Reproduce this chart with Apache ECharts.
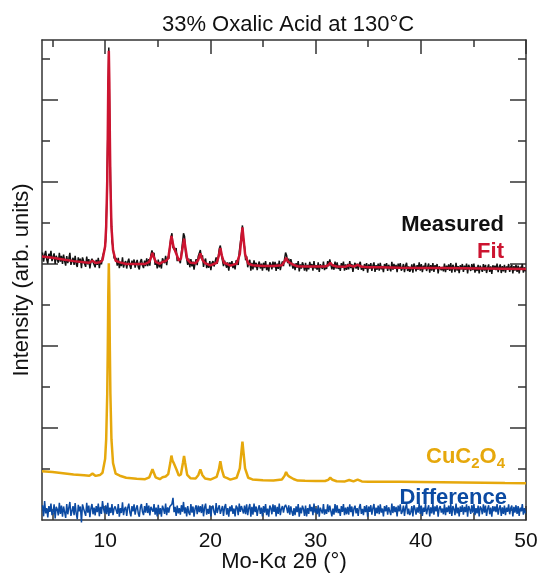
<!DOCTYPE html>
<html>
<head>
<meta charset="utf-8">
<script src="https://cdn.jsdelivr.net/npm/echarts@6/dist/echarts.min.js"></script>
<style>
html,body{margin:0;padding:0;background:#fff;}
#chart{width:540px;height:573px;}
</style>
</head>
<body>
<div id="chart"></div>
<script>
// ---- Data ----
const titleText = '33% Oxalic Acid at 130°C';
const xAxisName = 'Mo-Kα 2θ (°)';
const yAxisName = 'Intensity (arb. units)';

// Smooth curves (Fit and CuC2O4) sampled at these 2θ positions
const smoothX = [4,5,6,7,8,8.5,8.8,9.1,9.5,9.75,10.0,10.1,10.2,10.25,10.3,10.35,10.4,10.45,10.5,10.6,10.75,11.0,11.4,12,13,13.8,14.2,14.4,14.5,14.6,14.8,15.2,15.45,15.6,15.75,16.0,16.2,16.3,16.4,16.5,16.65,16.8,17.0,17.2,17.4,17.5,17.6,17.8,18.1,18.6,18.85,19.05,19.25,19.5,20.0,20.6,20.8,20.95,21.1,21.3,21.6,21.9,22.5,22.8,22.95,23.05,23.15,23.3,23.6,24.0,25,26,26.8,27.05,27.2,27.35,27.55,27.7,27.9,28.3,29,30,30.9,31.2,31.4,31.6,32.0,32.8,33.2,33.6,34.0,34.4,35,36,38,40,42,44,46,48,50];
const fitY = [6.18,6.15,6.11,6.07,6.04,6.03,6.08,6.025,6.04,6.095,6.43,6.91,8.01,9.07,10.43,11.2,10.43,9.07,8.01,6.91,6.34,6.08,6.04,6.0,6.0,6.0,6.054,6.19,6.27,6.19,6.054,6.005,6.05,6.09,6.07,6.14,6.49,6.685,6.55,6.42,6.39,6.225,6.085,6.13,6.45,6.615,6.45,6.12,6.03,6.02,6.10,6.26,6.10,6.02,5.965,6.03,6.20,6.39,6.20,6.03,6.0,5.96,6.01,6.24,6.63,6.89,6.63,6.24,6.01,5.97,5.95,5.95,5.97,6.06,6.15,6.07,6.03,6.05,5.98,5.945,5.94,5.94,5.94,5.97,6.025,5.97,5.94,5.93,5.97,5.935,5.98,5.93,5.92,5.92,5.91,5.905,5.90,5.895,5.89,5.885,5.88];
const cuY = [0.95,0.93,0.90,0.87,0.85,0.84,0.89,0.835,0.855,0.91,1.25,1.73,2.83,3.89,5.25,6.02,5.25,3.89,2.83,1.73,1.15,0.89,0.84,0.79,0.765,0.755,0.80,0.93,0.995,0.93,0.80,0.755,0.80,0.84,0.82,0.88,1.16,1.33,1.21,1.16,1.15,0.98,0.84,0.87,1.16,1.32,1.16,0.86,0.78,0.77,0.85,0.995,0.85,0.77,0.745,0.81,0.98,1.19,0.98,0.81,0.78,0.745,0.79,1.02,1.41,1.67,1.41,1.02,0.79,0.75,0.73,0.725,0.745,0.835,0.93,0.85,0.81,0.83,0.76,0.72,0.715,0.71,0.71,0.74,0.79,0.74,0.705,0.70,0.735,0.70,0.745,0.70,0.695,0.693,0.69,0.685,0.68,0.673,0.667,0.66,0.655];

// Measured and Difference: sampled every 0.1° starting at 4.05°
const scanStart = 4.05;
const scanStep = 0.1;
const measuredY = [
6.28,6.06,6.22,6.32,6.11,6.01,6.25,6.14,6.32,6.07,
6.10,6.26,6.00,6.20,6.16,6.03,6.27,6.06,6.20,6.00,
6.23,6.07,5.96,6.19,6.02,6.13,6.27,5.98,6.07,6.15,
5.98,6.20,6.00,5.93,6.16,6.04,6.13,5.90,6.16,6.08,
6.10,5.93,6.18,5.99,6.12,5.89,6.06,6.13,6.05,6.09,
5.92,6.10,5.98,6.15,5.90,6.09,5.99,6.17,6.16,6.36,
6.56,7.44,9.10,11.28,9.02,7.42,6.55,6.41,6.14,6.16,
6.14,5.96,6.15,5.90,6.05,5.95,6.16,5.91,6.02,6.07,
5.89,6.05,6.13,5.96,5.88,6.08,5.98,6.11,5.91,6.03,
6.10,5.93,5.87,6.06,6.12,5.97,5.90,6.08,5.95,6.14,
5.95,6.12,5.96,6.22,6.33,6.22,6.27,5.98,6.08,5.89,
6.11,5.92,6.05,5.89,6.14,6.10,6.02,6.20,5.97,6.18,
6.13,6.43,6.64,6.75,6.40,6.43,6.33,6.39,6.07,6.15,
6.12,6.02,6.28,6.30,6.75,6.67,6.26,6.24,5.98,6.13,
5.92,6.12,5.94,6.06,5.86,6.02,6.12,5.97,6.19,6.15,
6.34,6.13,6.21,5.93,6.07,6.13,5.90,6.00,5.91,6.07,
5.85,6.02,6.07,5.94,5.90,6.16,6.00,6.17,6.37,6.45,
6.23,6.22,5.95,6.08,6.11,5.91,6.04,5.84,6.04,5.95,
6.07,5.90,6.01,5.87,6.09,6.07,5.98,6.30,6.30,6.71,
6.94,6.57,6.42,6.09,6.19,5.92,6.04,6.10,5.84,6.03,
5.87,6.09,5.92,6.03,5.85,5.98,6.06,5.89,6.01,5.84,
6.03,5.90,6.07,5.85,5.98,5.82,6.04,5.99,5.87,6.06,
5.92,6.05,5.83,6.01,5.88,6.08,5.85,5.98,6.06,5.95,
6.12,6.28,6.21,6.02,6.13,5.94,6.12,6.01,5.89,6.01,
5.85,6.02,5.91,6.07,5.82,5.99,5.89,6.04,5.97,5.84,
6.03,5.82,5.98,5.87,6.05,5.92,6.00,5.84,6.07,5.89,
5.97,5.86,6.04,5.81,5.99,6.02,5.88,6.06,5.85,5.95,
5.88,6.07,5.95,6.11,6.08,5.87,5.99,5.86,6.06,5.89,
6.04,5.88,5.96,5.83,6.02,5.91,6.06,5.84,5.99,5.86,
6.00,5.87,6.07,5.90,6.00,5.81,5.96,6.03,5.89,6.01,
5.86,6.00,6.05,5.86,5.95,5.83,6.00,5.88,6.02,5.79,
5.99,5.89,6.02,5.83,5.96,6.04,5.81,5.97,5.86,6.01,
5.84,6.03,5.87,5.95,5.80,6.00,5.90,6.02,5.83,5.98,
5.96,5.82,6.05,5.86,6.00,5.88,5.98,5.80,6.01,5.90,
6.02,5.84,5.89,6.00,5.80,5.96,6.03,5.83,5.94,5.81,
5.87,5.99,5.79,6.01,5.94,5.82,5.97,5.86,6.04,5.84,
6.00,5.80,5.96,5.88,6.03,5.83,5.93,6.01,5.79,5.97,
5.84,6.02,5.81,5.97,5.88,6.00,5.77,5.94,5.98,5.85,
5.93,5.82,6.01,5.80,5.96,5.86,5.99,5.83,6.02,5.79,
5.98,5.92,5.80,6.03,5.84,5.95,5.78,5.97,5.87,6.00,
5.81,5.96,5.86,6.01,5.77,5.98,5.91,5.83,6.00,5.85,
6.01,5.79,5.93,5.83,5.98,5.77,5.96,5.92,5.81,6.00,
5.84,5.98,5.78,5.91,5.99,5.81,5.94,5.76,5.97,5.87,
5.96,5.85,6.01,5.80,5.92,5.99,5.78,5.95,5.82,5.98,
5.79,5.94,5.86,6.00,5.81,5.93,5.98,5.77,5.95,5.84,
5.98,5.81,5.96,5.77,5.93,5.86,6.00,5.79,5.92,5.82
];
const differenceY = [
.12,-.15,.22,-.08,.05,-.18,.10,-.04,.16,-.12,
-.06,.14,-.20,.08,.02,-.13,.18,-.09,.11,-.16,
.09,-.05,-.19,.15,-.10,.06,.20,-.14,-.02,.10,
-.12,.17,-.08,-.22,.13,-.03,.09,-.30,.14,.04,
.07,-.14,.18,-.06,.11,-.17,.04,.15,-.10,.06,
-.13,.10,-.05,.16,-.15,.08,-.09,.22,.03,-.08,
.12,-.10,.18,-.14,.06,-.07,.15,-.12,.04,.09,
.11,-.09,.15,-.16,.05,-.07,.19,-.12,.03,.08,
-.14,.06,.16,-.05,-.15,.10,-.03,.14,-.11,.04,
.12,-.08,-.16,.07,.15,-.04,-.12,.10,-.06,.17,
-.07,.11,-.13,.08,.10,-.04,.15,-.11,.06,-.15,
.13,-.10,.05,-.16,.11,.03,-.09,.16,-.12,.07,
-.06,.09,.05,.15,.30,-.05,.08,-.14,.11,-.08,
.05,-.11,.12,-.04,.20,-.08,.07,-.15,.10,-.06,
-.12,.15,-.06,.09,-.16,.04,.12,-.10,.11,-.05,
.10,-.07,.14,-.15,.06,.16,-.11,.03,-.09,.12,
-.15,.06,.11,-.05,-.12,.17,-.07,.04,.12,-.09,
-.05,.10,-.14,.07,.15,-.11,.05,-.16,.09,-.03,
.12,-.09,.04,-.15,.11,.06,-.12,.16,-.04,.10,
.07,-.08,.11,-.10,.14,-.12,.05,.15,-.16,.08,
-.11,.16,-.05,.09,-.14,.03,.12,-.09,.06,-.15,
.10,-.06,.15,-.12,.04,-.16,.11,.05,-.10,.14,
-.04,.12,-.15,.08,-.09,.16,-.12,.03,.10,-.06,
.08,.13,.06,-.07,.12,-.11,.09,-.04,-.14,.05,
-.12,.09,-.05,.15,-.16,.06,-.08,.11,.03,-.14,
.11,-.15,.05,-.09,.14,-.03,.08,-.12,.16,-.06,
.04,-.10,.12,-.16,.06,.10,-.08,.15,-.11,.02,
-.09,.14,-.05,.11,.08,-.15,.04,-.11,.15,-.06,
.12,-.07,.03,-.14,.10,-.04,.15,-.12,.06,-.10,
.08,-.11,.14,-.05,.09,-.15,.04,.11,-.08,.05,
-.14,.06,.15,-.09,.03,-.12,.10,-.05,.12,-.16,
.09,-.04,.12,-.11,.05,.15,-.14,.06,-.08,.11,
-.10,.14,-.06,.04,-.15,.10,-.03,.12,-.11,.07,
.05,-.12,.16,-.07,.10,-.05,.08,-.15,.11,-.03,
.14,-.09,-.03,.11,-.14,.06,.15,-.10,.04,-.12,
-.05,.10,-.15,.12,.04,-.11,.07,-.06,.16,-.09,
.11,-.14,.06,-.04,.15,-.10,.03,.12,-.15,.07,
-.08,.15,-.11,.09,-.03,.12,-.16,.05,.10,-.06,
.04,-.10,.14,-.12,.07,-.05,.11,-.09,.15,-.14,
.10,.03,-.12,.16,-.08,.06,-.15,.09,-.04,.12,
-.11,.08,-.05,.14,-.16,.10,.02,-.09,.12,-.06,
.15,-.12,.05,-.08,.11,-.15,.09,.04,-.10,.14,
-.06,.11,-.14,.03,.12,-.10,.06,-.16,.10,-.03,
.09,-.05,.15,-.11,.04,.12,-.14,.07,-.09,.11,
-.12,.06,-.04,.14,-.10,.05,.11,-.15,.08,-.06,
.12,-.09,.10,-.14,.06,-.03,.15,-.11,.05,-.08
];

// Axes ticks / labels
const xRange = [4, 50];
const yRange = [-0.24, 11.46];
const xMajorTicks = [10, 20, 30, 40, 50];
const xMinorTicks = [5, 15, 25, 35, 45];
const xTickLabels = [10, 20, 30, 40, 50];
const yMajorTicks = [0, 2, 4, 6, 8, 10];
const yMinorTicks = [1, 3, 5, 7, 9, 11];

const seriesNames = ['Measured', 'Fit', 'CuC2O4', 'Difference'];

// ---- Styles ----
const FONT = '"Liberation Sans", Arial, Helvetica, sans-serif';
const AX = '#333333';
const C_MEAS = '#111111';
const C_FIT = '#cc1430';
const C_CU = '#e6a80c';
const C_DIFF = '#0b4aa2';

const smoothData = ys => smoothX.map((x, i) => [x, ys[i]]);
const scanData = ys => ys.map((y, i) => [+(scanStart + i * scanStep).toFixed(2), y]);

function xAx(pos, ticks, len, main) {
  return {
    type: 'value', position: pos, min: xRange[0], max: xRange[1],
    axisLine: { show: main, onZero: false, lineStyle: { color: AX, width: 1.5 } },
    axisTick: { show: true, inside: true, length: len, customValues: ticks, lineStyle: { color: AX, width: 1.5 } },
    axisLabel: pos === 'bottom' && main ? { show: true, customValues: xTickLabels, fontSize: 21, color: '#111', margin: 11, fontFamily: FONT } : { show: false },
    splitLine: { show: false },
    name: pos === 'bottom' && main ? xAxisName : '',
    nameLocation: 'middle', nameGap: 31, nameMoveOverlap: false,
    nameTextStyle: { fontSize: 22, color: '#111', fontFamily: FONT, verticalAlign: 'top' }
  };
}
function yAx(pos, ticks, len, main) {
  return {
    type: 'value', position: pos, min: yRange[0], max: yRange[1],
    axisLine: { show: main, onZero: false, lineStyle: { color: AX, width: 1.5 } },
    axisTick: { show: true, inside: true, length: len, customValues: ticks, lineStyle: { color: AX, width: 1.5 } },
    axisLabel: { show: false },
    splitLine: { show: false },
    name: pos === 'left' && main ? yAxisName : '',
    nameLocation: 'middle', nameGap: 9, nameRotate: 90, nameMoveOverlap: false,
    nameTextStyle: { fontSize: 22, color: '#111', fontFamily: FONT }
  };
}

const chart = echarts.init(document.getElementById('chart'), null, { renderer: 'canvas' });
chart.setOption({
  animation: false,
  backgroundColor: '#fff',
  title: {
    text: titleText, left: 283, top: 9, textAlign: 'center',
    textStyle: { fontSize: 22, fontWeight: 'normal', color: '#111', fontFamily: FONT }
  },
  grid: { left: 42, right: 14, top: 40, bottom: 53, containLabel: false, outerBoundsMode: 'none' },
  xAxis: [xAx('bottom', xMajorTicks, 14, true), xAx('bottom', xMinorTicks, 7, false),
          xAx('top', xMajorTicks, 14, true), xAx('top', xMinorTicks, 7, false)],
  yAxis: [yAx('left', yMajorTicks, 16, true), yAx('left', yMinorTicks, 8, false),
          yAx('right', yMajorTicks, 16, true), yAx('right', yMinorTicks, 8, false)],
  series: [
    { name: seriesNames[2], type: 'line', data: smoothData(cuY), showSymbol: false, symbol: 'none',
      lineStyle: { color: C_CU, width: 2.5 }, z: 2 },
    { name: seriesNames[3], type: 'line', data: scanData(differenceY), showSymbol: false, symbol: 'none', clip: false,
      lineStyle: { color: C_DIFF, width: 1.5 }, z: 3 },
    { name: seriesNames[0], type: 'line', data: scanData(measuredY), showSymbol: false, symbol: 'none',
      lineStyle: { color: C_MEAS, width: 1.5 }, z: 4 },
    { name: seriesNames[1], type: 'line', data: smoothData(fitY), showSymbol: false, symbol: 'none',
      lineStyle: { color: C_FIT, width: 2.5 }, z: 5 }
  ],
  graphic: [
    { type: 'text', z: 100, x: 504, y: 225, style: { text: seriesNames[0], fill: C_MEAS, font: 'bold 22px ' + FONT, align: 'right', verticalAlign: 'middle' } },
    { type: 'text', z: 100, x: 504, y: 252, style: { text: seriesNames[1], fill: C_FIT, font: 'bold 22px ' + FONT, align: 'right', verticalAlign: 'middle' } },
    { type: 'text', z: 100, x: 505, y: 457, style: {
        text: '{m|CuC}{s|2}{m|O}{s|4}', align: 'right', verticalAlign: 'middle',
        rich: {
          m: { fill: C_CU, fontSize: 22, fontWeight: 'bold', fontFamily: FONT, lineHeight: 28, verticalAlign: 'middle' },
          s: { fill: C_CU, fontSize: 15, fontWeight: 'bold', fontFamily: FONT, lineHeight: 15, verticalAlign: 'bottom' }
        } } },
    { type: 'text', z: 100, x: 507, y: 498, style: { text: seriesNames[3], fill: C_DIFF, font: 'bold 22px ' + FONT, align: 'right', verticalAlign: 'middle' } }
  ]
});
</script>
</body>
</html>
